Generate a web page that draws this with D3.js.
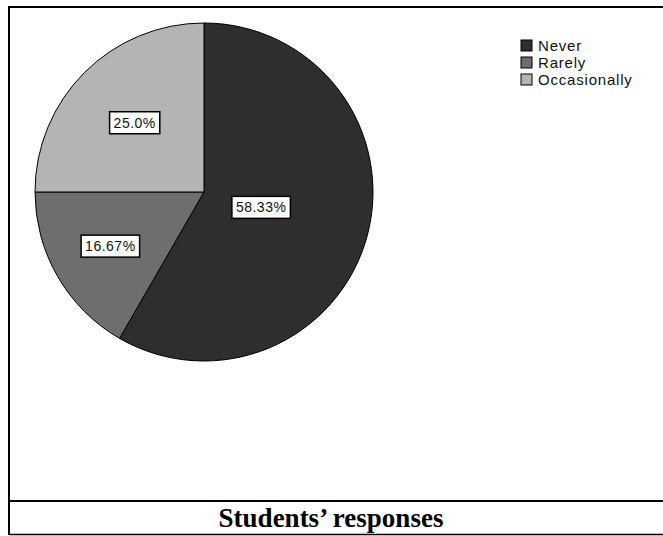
<!DOCTYPE html>
<html>
<head>
<meta charset="utf-8">
<script src="https://cdn.jsdelivr.net/npm/d3@7"></script>
<style>
  html, body { margin: 0; padding: 0; background: #fff; }
  svg { display: block; }
</style>
</head>
<body>
<svg id="chart" width="663" height="536"></svg>
<script>
// Survey answers and their shares of the class
const categories = ["Never", "Rarely", "Occasionally"];
const shares = [58.33, 16.67, 25.0];
const shareLabels = ["58.33%", "16.67%", "25.0%"];
const title = "Students\u2019 responses";

// Slice fills, darkest first
const fills = ["#2e2e2e", "#6e6e6e", "#b4b4b4"];
// How far out along each slice's middle its value tag sits (fraction of radius)
const labelRadiusFrac = [0.35, 0.64, 0.58];

const svg = d3.select("#chart");
const W = 663, H = 536;

// Frame: top rule, left rule, rule above the caption, bottom rule
const frame = svg.append("g").attr("stroke", "#000").attr("fill", "none");
frame.append("line").attr("x1", 9).attr("x2", W).attr("y1", 7).attr("y2", 7).attr("stroke-width", 2);
frame.append("line").attr("x1", 9).attr("x2", 9).attr("y1", 6).attr("y2", 535).attr("stroke-width", 2);
frame.append("line").attr("x1", 9).attr("x2", W).attr("y1", 501).attr("y2", 501).attr("stroke-width", 2);
frame.append("line").attr("x1", 9).attr("x2", W).attr("y1", 534.5).attr("y2", 534.5).attr("stroke-width", 1.5);

// Pie
const cx = 204, cy = 192, R = 169;
const pie = d3.pie().sort(null).value(d => d.value);
const data = categories.map((c, i) => ({ name: c, value: shares[i], label: shareLabels[i], i }));
const arcs = pie(data);
const arc = d3.arc().innerRadius(0).outerRadius(R);

const g = svg.append("g").attr("transform", `translate(${cx},${cy})`);
g.selectAll("path.slice")
  .data(arcs)
  .join("path")
  .attr("class", "slice")
  .attr("d", arc)
  .attr("fill", d => fills[d.data.i])
  .attr("stroke", "#000")
  .attr("stroke-width", 1);

// Value tags
const tags = g.selectAll("g.tag")
  .data(arcs)
  .join("g")
  .attr("class", "tag")
  .attr("transform", d => {
    const r = R * labelRadiusFrac[d.data.i];
    const c = d3.arc().innerRadius(r).outerRadius(r).centroid(d);
    return `translate(${c[0]},${c[1]})`;
  });

tags.append("text")
  .attr("text-anchor", "middle")
  .attr("dy", "0.36em")
  .attr("font-family", "'Liberation Sans', Arial, sans-serif")
  .attr("font-size", 14)
  .attr("letter-spacing", 0.5)
  .attr("fill", "#111")
  .text(d => d.data.label);

tags.each(function() {
  const t = d3.select(this).select("text");
  const b = t.node().getBBox();
  d3.select(this).insert("rect", "text")
    .attr("x", b.x - 4)
    .attr("y", b.y - 3)
    .attr("width", b.width + 8)
    .attr("height", b.height + 6)
    .attr("fill", "#fff")
    .attr("stroke", "#000")
    .attr("stroke-width", 1.5);
});

// Legend
const legend = svg.append("g").attr("transform", "translate(521,40)");
const rowH = 17;
const rows = legend.selectAll("g.row")
  .data(categories)
  .join("g")
  .attr("class", "row")
  .attr("transform", (d, i) => `translate(0,${i * rowH})`);
rows.append("rect")
  .attr("width", 11).attr("height", 11)
  .attr("fill", (d, i) => fills[i])
  .attr("stroke", "#000");
rows.append("text")
  .attr("x", 17).attr("y", 6).attr("dy", "0.36em")
  .attr("font-family", "'Liberation Sans', Arial, sans-serif")
  .attr("font-size", 15)
  .attr("letter-spacing", 0.8)
  .attr("fill", "#111")
  .text(d => d);

// Caption
svg.append("text")
  .attr("x", 331).attr("y", 527)
  .attr("text-anchor", "middle")
  .attr("font-family", "'Liberation Serif', 'Times New Roman', serif")
  .attr("font-weight", "bold")
  .attr("font-size", 27)
  .attr("fill", "#000")
  .text(title);
</script>
</body>
</html>
